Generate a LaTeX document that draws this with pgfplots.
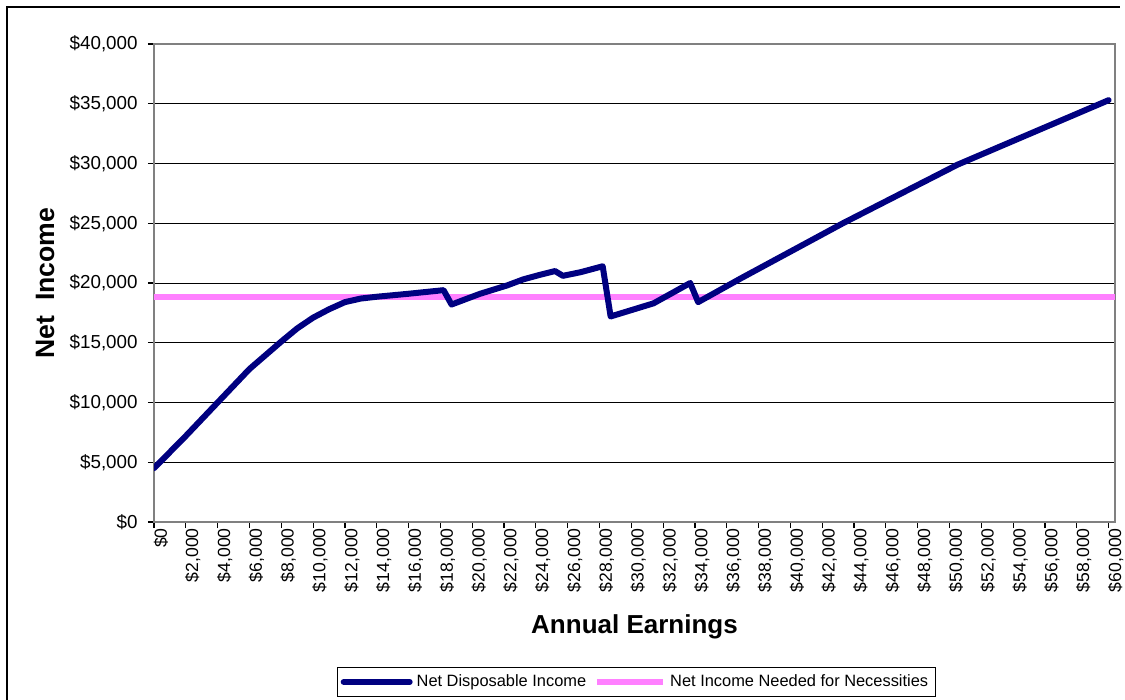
\documentclass[border=0pt]{standalone}
\usepackage{pgfplots}
\pgfplotsset{compat=1.18}
\usepackage{fontspec}
\setmainfont{Liberation Sans}
\definecolor{navyline}{RGB}{0,0,128}
\definecolor{pinkline}{RGB}{255,128,255}
\definecolor{boxgray}{RGB}{128,128,128}
\begin{document}
\begin{tikzpicture}
\useasboundingbox (0,0) rectangle (562.5bp,350bp);
\draw[line width=1bp] (3.5bp,0) -- (3.5bp,346.5bp) -- (560bp,346.5bp);
\begin{axis}[
  at={(77bp,89bp)}, anchor=south west,
  scale only axis, width=480.5bp, height=239bp,
  xmin=0, xmax=60400, ymin=0, ymax=40000,
  scaled ticks=false,
  /pgf/number format/assume math mode=true,
  xtick={0,2000,...,60000},
  ytick={0,5000,...,40000},
  ymajorgrids,
  grid style={black, line width=0.5bp},
  axis line style={boxgray, line width=0.8bp},
  tick align=outside,
  major tick length=3bp,
  tick style={black, line width=0.6bp},
  xtick pos=bottom, ytick pos=left,
  xticklabel={\$\pgfmathprintnumber[fixed,precision=0,1000 sep={,}]{\tick}},
  yticklabel={\$\pgfmathprintnumber[fixed,precision=0,1000 sep={,}]{\tick}},
  xticklabel style={rotate=90, anchor=east, font=\fontsize{8.8bp}{10bp}\selectfont, inner sep=0pt, yshift=-3.5bp},
  yticklabel style={font=\fontsize{9.4bp}{11bp}\selectfont, inner sep=0pt, xshift=-5bp},
  xlabel={Annual Earnings},
  ylabel={Net\ \ Income},
  xlabel style={at={(axis description cs:0.5,-0.2197)}, anchor=center, font=\bfseries\fontsize{13bp}{15bp}\selectfont},
  ylabel style={at={(axis description cs:-0.1134,0.5)}, anchor=center, font=\bfseries\fontsize{13.3bp}{15bp}\selectfont},
  legend columns=2,
  legend style={at={(axis description cs:0.502,-0.366)}, anchor=south, draw=black, line width=0.6bp,
    font=\fontsize{8.2bp}{10bp}\selectfont, inner xsep=1.5bp, inner ysep=1.5bp,
    /tikz/every odd column/.append style={column sep=0pt},
    /tikz/every even column/.append style={column sep=2bp}},
  legend cell align=left,
  legend image code/.code={\draw[#1] (0bp,0bp) -- (33bp,0bp);},
]
\addplot[pinkline, line width=3bp, forget plot] coordinates {(0,18800) (60400,18800)};
\addplot[navyline, line width=3bp, line cap=round, line join=round] coordinates {
(0,4500) (2000,7200) (4000,10000) (6000,12800) (8000,15100) (9000,16200)
(10000,17100) (11000,17800) (12000,18400) (13000,18700) (14000,18850)
(16000,19100) (18200,19400) (18700,18200) (20500,19100) (22200,19800)
(23200,20300) (24300,20700) (25200,21000) (25700,20600) (26800,20900)
(28200,21400) (28700,17200) (31400,18300) (33700,20000) (34200,18400)
(36900,20400) (43300,25000) (50500,29900) (60000,35300)
};
\addlegendentry{Net Disposable Income}
\addlegendimage{pinkline, line width=3bp}
\addlegendentry{Net Income Needed for Necessities}
\end{axis}
\end{tikzpicture}
\end{document}
